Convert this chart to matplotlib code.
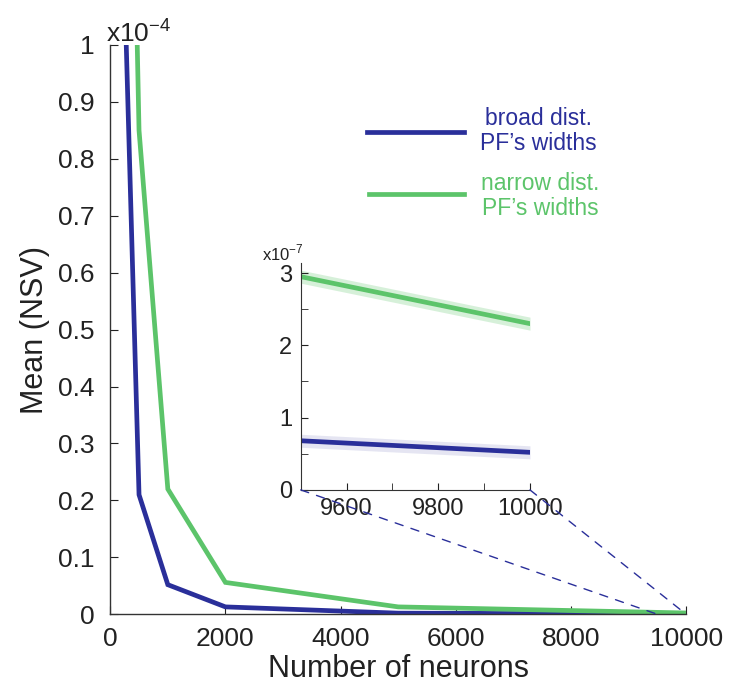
import matplotlib
matplotlib.use("Agg")
import matplotlib.pyplot as plt
from matplotlib.patches import ConnectionPatch
import numpy as np

plt.rcParams['font.family'] = ['Liberation Sans', 'DejaVu Sans']

# Data (mean NSV in units of 1e-4)
neurons = [250, 500, 1000, 2000, 5000, 10000]
broad = [1.10, 0.21, 0.052, 0.013, 0.002, 0.00055]
narrow = [2.05, 0.85, 0.22, 0.056, 0.013, 0.0023]

# Inset data (units of 1e-7)
inset_x = [9500, 10000]
inset_broad = [0.68, 0.52]
inset_narrow = [2.95, 2.30]
inset_band = 0.09

blue = '#2a2f9a'
green = '#5cc46a'

fig = plt.figure(figsize=(7.30, 6.91), dpi=100)
ax = fig.add_axes([0.151, 0.111, 0.789, 0.824])
ax.plot(neurons, broad, color=blue, lw=3.4, solid_joinstyle='miter')
ax.plot(neurons, narrow, color=green, lw=3.4, solid_joinstyle='miter')
ax.set_xlim(0, 10000)
ax.set_ylim(0, 1)
ax.set_xticks([0, 2000, 4000, 6000, 8000, 10000])
ax.set_yticks(np.round(np.arange(0, 1.01, 0.1), 1))
ax.set_yticklabels(['0', '0.1', '0.2', '0.3', '0.4', '0.5', '0.6', '0.7', '0.8', '0.9', '1'])
for s in ['top', 'right']:
    ax.spines[s].set_visible(False)
for s in ['left', 'bottom']:
    ax.spines[s].set_color('#333333')
    ax.spines[s].set_linewidth(1.0)
ax.tick_params(direction='in', length=6, labelsize=19, colors='#222222')
ax.tick_params(axis='y', pad=11)
ax.tick_params(axis='x', pad=9)
ax.set_xlabel('Number of neurons', fontsize=22, color='#222222', labelpad=2)
ax.set_ylabel('Mean (NSV)', fontsize=22, color='#222222', labelpad=6)
ax.text(-0.008, 0.997, r'x10$^{\mathregular{-4}}$', transform=ax.transAxes,
        fontsize=19, color='#222222', ha='left', va='bottom')

# Legend (manual)
ax.plot([0.445, 0.615], [0.847, 0.847], transform=ax.transAxes, color=blue, lw=3.4, clip_on=False)
ax.plot([0.449, 0.615], [0.738, 0.738], transform=ax.transAxes, color=green, lw=3.4, clip_on=False)
ax.text(0.743, 0.849, "broad dist.\nPF\u2019s widths", transform=ax.transAxes,
        ha='center', va='center', fontsize=16.5, color=blue, linespacing=1.12)
ax.text(0.747, 0.734, "narrow dist.\nPF\u2019s widths", transform=ax.transAxes,
        ha='center', va='center', fontsize=16.5, color=green, linespacing=1.12)

# Inset
axi = fig.add_axes([0.412, 0.291, 0.314, 0.3285])
axi.fill_between(inset_x, np.array(inset_narrow) - inset_band, np.array(inset_narrow) + inset_band,
                 color=green, alpha=0.25, lw=0)
axi.fill_between(inset_x, np.array(inset_broad) - inset_band, np.array(inset_broad) + inset_band,
                 color=blue, alpha=0.12, lw=0)
axi.plot(inset_x, inset_narrow, color=green, lw=3.4)
axi.plot(inset_x, inset_broad, color=blue, lw=3.4)
axi.set_xlim(9500, 10000)
axi.set_ylim(0, 3.14)
axi.set_xticks([9600, 9800, 10000])
axi.set_xticks([9500, 9700, 9900], minor=True)
axi.set_yticks([0, 1, 2, 3])
axi.set_yticks([0.5, 1.5, 2.5], minor=True)
for s in ['top', 'right']:
    axi.spines[s].set_visible(False)
for s in ['left', 'bottom']:
    axi.spines[s].set_color('#333333')
axi.tick_params(which='both', direction='in', length=5, labelsize=17, colors='#222222', pad=6)
axi.text(-0.17, 1.0, r'x10$^{\mathregular{-7}}$', transform=axi.transAxes,
         fontsize=12, color='#222222', ha='left', va='bottom')

# Connector dashed lines
for xv in [9500, 10000]:
    con = ConnectionPatch(xyA=(xv, 0), coordsA=axi.transData,
                          xyB=(xv, 0), coordsB=ax.transData,
                          color=blue, lw=1.0, linestyle=(0, (6, 6)))
    fig.add_artist(con)

fig.savefig('out.png', dpi=100)
